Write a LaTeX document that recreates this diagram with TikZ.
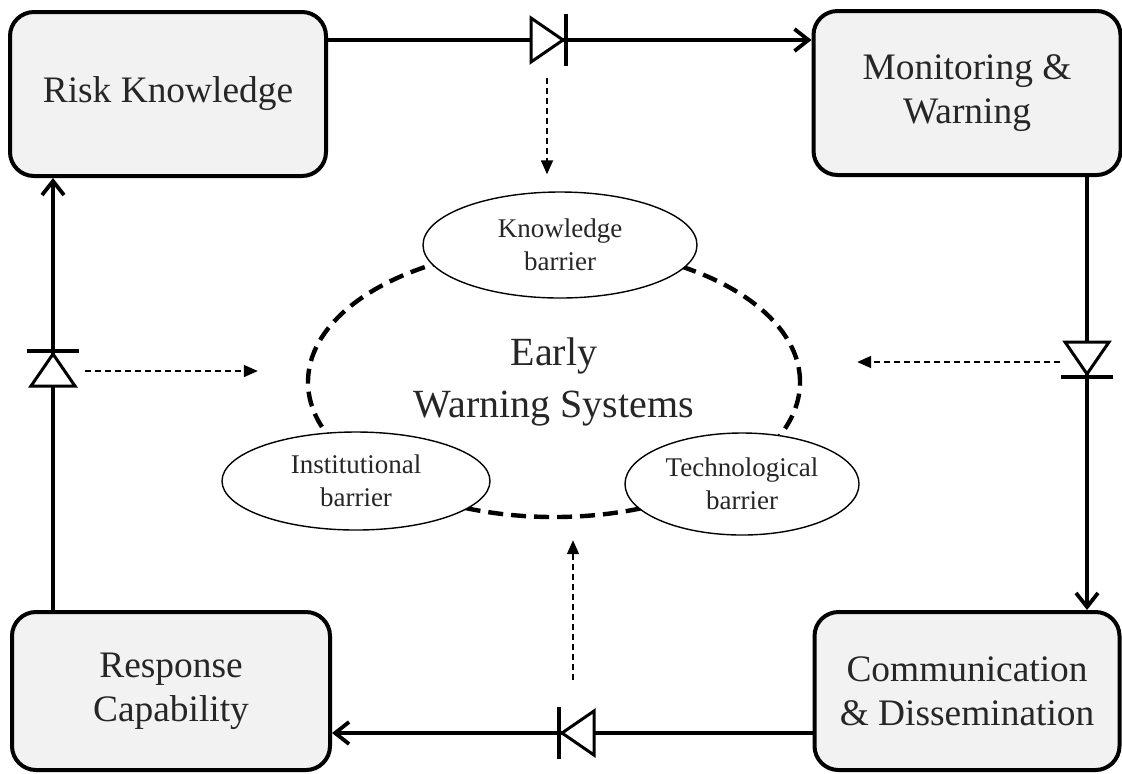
\documentclass[tikz,border=0pt]{standalone}
\usepackage{fontspec}
\setmainfont{Liberation Serif}
\usetikzlibrary{arrows.meta,shapes.geometric,calc}

\begin{document}
\begin{tikzpicture}[x=0.5pt,y=-0.5pt,
  stage/.style={draw, line width=2pt, rounded corners=12pt, fill=black!5, text=black!85, align=center, minimum width=155pt, minimum height=82pt, font=\fontsize{18.7}{22}\selectfont},
  barrier/.style={ellipse, draw, line width=0.7pt, fill=white, text=black!85, align=center, inner sep=0pt, font=\fontsize{13.5}{16.5}\selectfont},
  flow/.style={line width=1.9pt, -{Straight Barb[length=7pt,width=11pt]}},
  hint/.style={line width=0.9pt, dash pattern=on 3pt off 2pt, -{Triangle[length=7pt,width=6pt]}},
  diode/.pic={\draw[line width=1.5pt, fill=white] (-16,-22) -- (16,0) -- (-16,22) -- cycle; \draw[line width=2pt] (19,-26) -- (19,26);}]
  \useasboundingbox (0,0) rectangle (1122,773);
  \node[stage, minimum width=158pt] (rk) at (168,94) {Risk Knowledge};
  \node[stage, minimum width=153.5pt] (mw) at (967,93) {Monitoring \&\\Warning};
  \node[stage, minimum width=159pt, minimum height=79pt] (rc) at (171,691) {Response\\Capability};
  \node[stage, minimum width=152.5pt, minimum height=79pt] (cd) at (967,691) {Communication\\\& Dissemination};
  \coordinate (d1) at (547,40);
  \coordinate (d2) at (1087,358);
  \coordinate (d3) at (578,733);
  \coordinate (d4) at (53,370);
  \node[ellipse, draw, line width=2.2pt, dash pattern=on 7.5pt off 4pt, minimum width=246pt, minimum height=135pt, align=center, text=black!85, font=\fontsize{20}{26}\selectfont] (ews) at (554,382) {Early\\Warning Systems};
  \node[barrier, minimum width=137pt, minimum height=53pt] (kb) at (560,245) {Knowledge\\barrier};
  \node[barrier, minimum width=134pt, minimum height=49pt] (ib) at (356,481) {Institutional\\barrier};
  \node[barrier, minimum width=117pt, minimum height=51pt] (tb) at (742,484) {Technological\\barrier};
  \draw[flow] (rk.east |- d1) -- (mw.west |- d1);
  \draw[flow] (mw.south -| d2) -- (cd.north -| d2);
  \draw[flow] (cd.west |- d3) -- (rc.east |- d3);
  \draw[flow] (rc.north -| d4) -- (rk.south -| d4);
  \pic at (d1) {diode};
  \pic[rotate=-90] at (d2) {diode};
  \pic[rotate=180] at (d3) {diode};
  \pic[rotate=90] at (d4) {diode};
  \draw[hint] ($(d1)+(0,38)$) -- ($(kb.north -| d1)+(0,-17)$);
  \draw[hint] ($(d4)+(32,1)$) -- ($(ews.west |- d4)+(-48,1)$);
  \draw[hint] ($(d2)+(-27,4)$) -- ($(ews.east |- d2)+(55,4)$);
  \draw[hint] ($(d3)+(-5,-53)$) -- ($(ews.south)+(19,21)$);
\end{tikzpicture}
\end{document}
